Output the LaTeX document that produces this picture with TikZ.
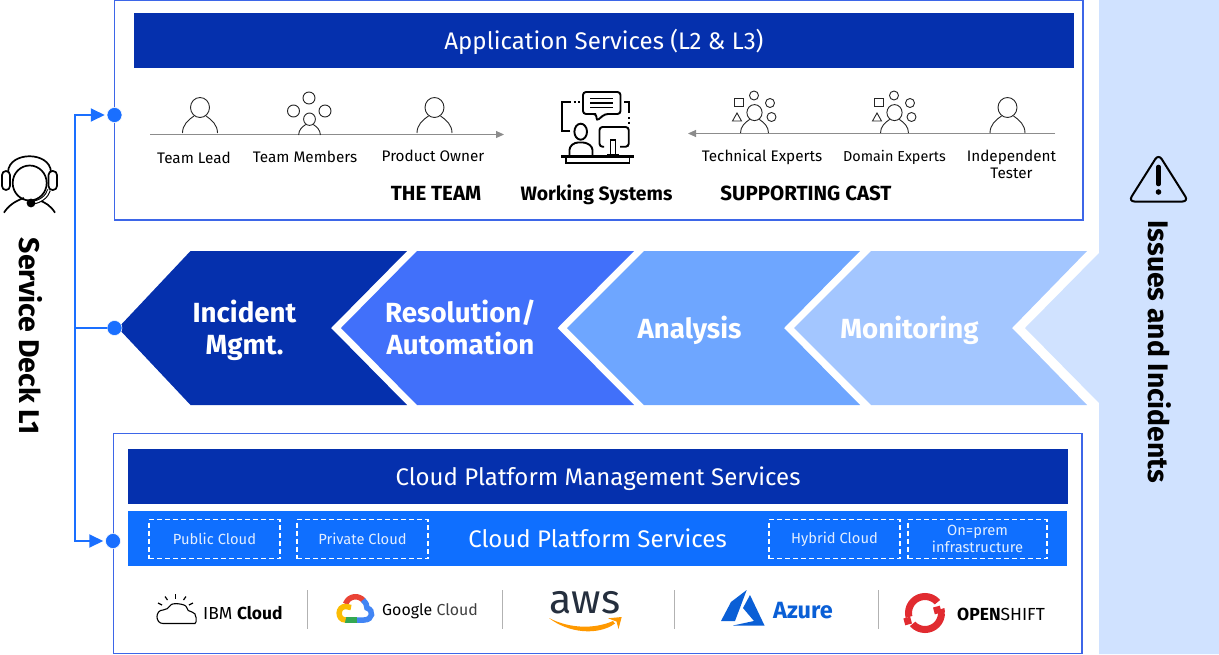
\documentclass[tikz,border=0pt]{standalone}
\usepackage{fontspec}
\setmainfont{Fira Sans}
\usetikzlibrary{arrows.meta,positioning}

\definecolor{navybar}{HTML}{0530AD}
\definecolor{brightbar}{HTML}{0F6FFF}
\definecolor{linkblue}{HTML}{1A6FFF}
\definecolor{boxblue}{HTML}{3D66E8}
\definecolor{chevtwo}{HTML}{4170FA}
\definecolor{chevthree}{HTML}{6EA6FF}
\definecolor{chevfour}{HTML}{A3C6FF}
\definecolor{panelblue}{HTML}{D0E2FF}
\definecolor{teamgrey}{HTML}{8C8C8C}
\definecolor{googlered}{HTML}{EA4335}
\definecolor{googleblue}{HTML}{4285F4}
\definecolor{googlegreen}{HTML}{34A853}
\definecolor{googleyellow}{HTML}{FBBC04}
\definecolor{awsdark}{HTML}{252F3E}
\definecolor{awsorange}{HTML}{FF9900}
\definecolor{azureblue}{HTML}{0A5FD6}
\definecolor{shiftred}{HTML}{E12B30}

\newcommand{\fsize}[1]{\fontsize{#1}{#1}\selectfont}
% person outline, base line at #2, centre at #1, scale #3
\newcommand{\personfig}[3]{
  \begin{scope}[shift={(#1,#2)}, scale=#3]
    \draw[icon] (0,-25.5) ellipse [x radius=9.5, y radius=10];
    \draw[icon] (-17.5,0) .. controls (-17.5,-8) and (-12,-13) .. (-6,-17);
    \draw[icon] (17.5,0) .. controls (17.5,-8) and (12,-13) .. (6,-17);
  \end{scope}
}

\begin{document}
\begin{tikzpicture}[x=1pt, y=-1pt]
      \tikzstyle{icon} = [line width=0.9pt, draw=black!85]
      \tikzstyle{outerbox} = [line width=1.2pt, draw=boxblue, fill=white]
      \tikzstyle{barnode} = [rectangle, inner sep=0pt, text=white, font=\fsize{24}, text height=18pt, text depth=0pt]
      \tikzstyle{dashbox} = [rectangle, inner sep=0pt, draw=white, line width=1.1pt, dash pattern=on 5pt off 3pt, text=white!88!brightbar, align=center, font=\fsize{14.7}]
      \tikzstyle{rolenode} = [inner sep=0pt, align=center, text=black, font=\fsize{15.3}]
      \tikzstyle{headnode} = [inner sep=0pt, text=black, font=\fsize{20.5}\bfseries]
      \tikzstyle{stepnode} = [inner sep=0pt, align=center, text=white, font=\fsize{27.7}\bfseries]
      \tikzstyle{dotnode} = [circle, fill=linkblue, draw=white, line width=0.5pt, minimum size=15pt, inner sep=0pt]
      \tikzstyle{linkline} = [line width=2pt, draw=linkblue]
      \tikzstyle{teamline} = [line width=1pt, draw=teamgrey, -{Triangle[length=8pt, width=7pt]}]
      \tikzstyle{sepline} = [line width=0.8pt, draw=black!30]

      \useasboundingbox (0,0) rectangle (1219,654);

      %%%%%%%%%%%%%%%%%%%%%%%%%%%%%%
      %% Side panel and chevrons
      %%%%%%%%%%%%%%%%%%%%%%%%%%%%%%
      \fill[panelblue] (1099,0) -- (1219,0) -- (1219,654) -- (1099,654) -- (1099,403) -- (1025,328) -- (1099,253) -- cycle;

      \fill[navybar] (118,328) -- (190.5,251) -- (407,251) -- (331,328) -- (407,405) -- (190.5,405) -- cycle;
      \fill[chevtwo] (341,328) -- (417,251) -- (634,251) -- (557.5,328) -- (634,405) -- (417,405) -- cycle;
      \fill[chevthree] (567,328) -- (644,251) -- (860,251) -- (784,328) -- (860,405) -- (644,405) -- cycle;
      \fill[chevfour] (794,328) -- (871,251) -- (1087,251) -- (1012,328) -- (1087,405) -- (871,405) -- cycle;

      \node[stepnode] (incident) at (244.5,330) {Incident\\[4.3pt]Mgmt.};
      \node[stepnode] (resolution) at (460.5,327) {Resolution/\\[4.3pt]Automation};
      \node[stepnode, text height=20pt, text depth=0pt] (analysis) at (689.5,328) {Analysis};
      \node[stepnode, text height=20pt, text depth=0pt] (monitoring) at (909.5,328) {Monitoring};

      \node[inner sep=0pt, rotate=-90, font=\fsize{28.3}\bfseries] (issues) at (1160,352) {Issues and Incidents};

      %%%%%%%%%%%%%%%%%%%%%%%%%%%%%%
      %% Warning sign
      %%%%%%%%%%%%%%%%%%%%%%%%%%%%%%
      \draw[line width=2pt, rounded corners=6pt, draw=black] (1158.5,154) -- (1188.5,201.5) -- (1128.5,201.5) -- cycle;
      \draw[line width=4.6pt, line cap=round] (1158.5,167) -- (1158.5,184);
      \fill (1158.5,192) circle (2.8);

      %%%%%%%%%%%%%%%%%%%%%%%%%%%%%%
      %% Application services box
      %%%%%%%%%%%%%%%%%%%%%%%%%%%%%%
      \draw[outerbox] (114.5,0.5) rectangle (1083,220);
      \node[barnode, fill=navybar, minimum width=940pt, minimum height=55pt] (appbar) at (604,40.5) {Application Services (L2 \& L3)};

      \coordinate (teamstart) at (150,134.5);
      \coordinate (teamend) at (504,134.5);
      \coordinate (caststart) at (1055,133.5);
      \coordinate (castend) at (688,133.5);
      \draw[teamline] (teamstart) -- (teamend);
      \draw[teamline] (caststart) -- (castend);

      \personfig{200}{133}{1}
      \personfig{434.5}{133}{1}
      \personfig{1007.5}{133}{1}

      \personfig{309.5}{135}{0.62}
      \draw[icon] (309,98) circle (6);
      \draw[icon] (293.5,111) circle (6);
      \draw[icon] (325,111) circle (6);

      \personfig{754.5}{133}{0.8}
      \draw[icon] (734.5,98) rectangle (743.5,106);
      \draw[icon] (754,95.5) circle (4.5);
      \draw[icon] (770,103) circle (4.5);
      \draw[icon] (771.5,117) circle (4.5);
      \draw[icon] (737,113) -- (741.5,121) -- (732.5,121) -- cycle;

      \personfig{894.5}{133}{0.8}
      \draw[icon] (874.5,98) rectangle (883.5,106);
      \draw[icon] (894,95.5) circle (4.5);
      \draw[icon] (910,103) circle (4.5);
      \draw[icon] (911.5,117) circle (4.5);
      \draw[icon] (877,113) -- (881.5,121) -- (872.5,121) -- cycle;

      \node[rolenode] (teamlead) at (194,158) {Team Lead};
      \node[rolenode] (teammembers) at (305,157) {Team Members};
      \node[rolenode] (productowner) at (433,156) {Product Owner};
      \node[rolenode] (techexperts) at (762,157) {Technical Experts};
      \node[rolenode, font=\fsize{14.4}] (domainexperts) at (894.5,157) {Domain Experts};
      \node[rolenode] (tester) at (1011.5,164.5) {Independent\\[2pt]Tester};

      \node[headnode] (theteam) at (436,193) {THE TEAM};
      \node[headnode, font=\fsize{19.4}\bfseries] (working) at (596.5,194.5) {Working Systems};
      \node[headnode] (cast) at (806,193) {SUPPORTING CAST};

      %% Working systems icon
      \begin{scope}[line width=1.9pt]
        \draw[rounded corners=3pt] (593,114) -- (583,114) -- (583,92) -- (620.5,92) -- (620.5,114) -- (605,114) -- (596.5,121) -- (596.5,114) -- cycle;
        \draw (590,98.5) -- (613,98.5);
        \draw (590,103) -- (613,103);
        \draw (590,107.5) -- (613,107.5);
        \draw (570,130.7) -- (562.3,130.7) -- (562.3,101.7) -- (571,101.7);
        \draw[dash pattern=on 2pt off 2.5pt] (573.5,101.7) -- (581,101.7);
        \draw (624,101.7) -- (628.7,101.7) -- (628.7,113);
        \draw[dash pattern=on 2pt off 2.5pt] (628.7,117) -- (628.7,124);
        \draw[rounded corners=3pt] (604,146.7) -- (599.5,146.7) -- (599.5,127) -- (628.7,127) -- (628.7,146.7) -- (620,146.7);
        \draw (610.5,154) -- (610.5,140) -- (615.5,140) -- (615.5,154);
        \draw (607,154.5) -- (619,154.5);
        \draw (580.7,131.7) ellipse [x radius=6.3, y radius=8];
        \draw[rounded corners=3pt] (569.5,155) -- (569.5,147) -- (575,142.5) -- (586,142.5) -- (592.5,147) -- (592.5,155);
        \draw[line width=2.5pt] (561,156.3) -- (634.3,156.3);
        \draw (566,157) -- (566,163) -- (629.5,163) -- (629.5,157);
      \end{scope}

      %%%%%%%%%%%%%%%%%%%%%%%%%%%%%%
      %% Cloud platform box
      %%%%%%%%%%%%%%%%%%%%%%%%%%%%%%
      \draw[outerbox] (113.5,433.5) rectangle (1082,653.5);
      \node[barnode, fill=navybar, minimum width=940pt, minimum height=55pt] (mgmtbar) at (598,476.5) {Cloud Platform Management Services};
      \node[barnode, fill=brightbar, minimum width=939pt, minimum height=55pt] (platformbar) at (597.5,538.5) {Cloud Platform Services};

      \node[dashbox, minimum width=131pt, minimum height=39pt] (publicbox) at (214.5,539) {Public Cloud};
      \node[dashbox, minimum width=131pt, minimum height=39pt] (privatebox) at (362.5,539) {Private Cloud};
      \node[dashbox, minimum width=131pt, minimum height=39pt] (hybridbox) at (834.5,539) {Hybrid Cloud};
      \node[dashbox, minimum width=139pt, minimum height=39pt] (onprembox) at (977.5,539) {On=prem\\[2pt]infrastructure};

      \draw[sepline] (307.5,590) -- (307.5,629);
      \draw[sepline] (502.5,590) -- (502.5,629);
      \draw[sepline] (674.5,590) -- (674.5,629);
      \draw[sepline] (878.5,590) -- (878.5,629);

      %% IBM Cloud
      \draw[line width=1.1pt, rounded corners=5pt] (163,623.5) -- (190,623.5) .. controls (197,623.5) and (197,612) .. (187,612) .. controls (186,604) and (172,602) .. (168,610) .. controls (155,610) and (155,623.5) .. (163,623.5);
      \foreach \tx/\ty/\ux/\uy in {175.5/594/175.5/599, 165/596.5/167.5/600, 186/596.5/183.5/600, 158/603/162/605, 193/603/189/605}
        \draw[line width=1.2pt] (\tx,\ty) -- (\ux,\uy);
      \node[inner sep=0pt, anchor=west, font=\fsize{17.4}] (ibmcloud) at (203,613.5) {IBM \textbf{Cloud}};

      %% Google Cloud
      \draw[line width=5.5pt, draw=googlered] (345.5,604) .. controls (349,595) and (359,595) .. (363.5,600.5);
      \draw[line width=5.5pt, draw=googleblue] (363,600) .. controls (366,603) and (367,605) .. (367,608) .. controls (374,610) and (373,620) .. (364,620) -- (356,620);
      \draw[line width=5.5pt, draw=googlegreen] (356.5,620) -- (345,620);
      \draw[line width=5.5pt, draw=googleyellow] (345.5,620) .. controls (337,620) and (337,606) .. (346,606.5) -- (351,607.5);
      \node[inner sep=0pt, anchor=west, font=\fsize{15.9}] (googlecloud) at (382,611.5) {Google \textcolor{black!75}{Cloud}};

      %% AWS
      \node[inner sep=0pt, text=awsdark, font=\fsize{41}] (aws) at (585,603) {aws};
      \fill[awsorange] (549,618) .. controls (568,633) and (598,636) .. (615,623.5) -- (613,621) .. controls (595,629) and (570,629) .. (549,618) -- cycle;
      \fill[awsorange] (608,618.3) -- (621.7,617) -- (618.5,629) -- (616.5,621.5) -- cycle;

      %% Azure
      \fill[azureblue] (746.7,590) -- (731,602) -- (721,621) -- (735,621) -- cycle;
      \fill[azureblue] (750,595) -- (743,608) -- (754,621) -- (733,625.5) -- (764.5,625.5) -- cycle;
      \node[inner sep=0pt, anchor=west, text=azureblue, font=\fsize{23.5}\bfseries] (azure) at (773,610.5) {Azure};

      %% OpenShift
      \node[circle, minimum size=33pt, inner sep=0pt] (shiftring) at (925,613) {};
      \draw[line width=7pt, draw=shiftred, dash pattern=on 44pt off 7.83pt, dash phase=4.1pt] (shiftring.center) circle (16.5);
      \fill[shiftred, rotate around={15:(937.3,610)}] (933.8,606.5) rectangle (940.8,613.5);
      \fill[shiftred, rotate around={15:(907.7,621)}] (904.2,617.5) rectangle (911.2,624.5);
      \node[inner sep=0pt, anchor=west, font=\fsize{17.5}] (openshift) at (957,614) {\textbf{OPEN}SHIFT};

      %%%%%%%%%%%%%%%%%%%%%%%%%%%%%%
      %% Service deck and links
      %%%%%%%%%%%%%%%%%%%%%%%%%%%%%%
      \draw[line width=1.7pt] (4,212.7) .. controls (8,206) and (15,201) .. (24,198);
      \draw[line width=1.7pt] (55,212.7) .. controls (51,206) and (45,202) .. (38,200);
      \draw[line width=1.7pt] (29.7,183) ellipse [x radius=17, y radius=17.5];
      \draw[line width=1.7pt] (8,172) .. controls (9,151) and (50,151) .. (51,172);
      \draw[line width=1.7pt, rounded corners=4pt] (2,171) rectangle (10,190);
      \draw[line width=1.7pt, rounded corners=4pt] (48.5,171) rectangle (57,190);
      \draw[line width=1.1pt, double=white, double distance=1.6pt] (49,190) .. controls (47,197) and (40,202) .. (31,203);
      \fill (31,203) circle (4.4);
      \node[inner sep=0pt, rotate=-90, font=\fsize{28.5}\bfseries] (servicedeck) at (31,336) {Service Deck L1};

      \node[dotnode] (dota) at (114.5,115) {};
      \node[dotnode] (dotb) at (114.5,328) {};
      \node[dotnode] (dotc) at (113,541) {};
      \coordinate (spine) at (75,328);
      \draw[linkline, -{Triangle[length=14pt, width=13pt]}, shorten >=2pt] (spine) |- (dota);
      \draw[linkline, -{Triangle[length=14pt, width=13pt]}, shorten >=2pt] (spine) |- (dotc);
      \draw[linkline] (spine) -- (dotb);
\end{tikzpicture}
\end{document}
